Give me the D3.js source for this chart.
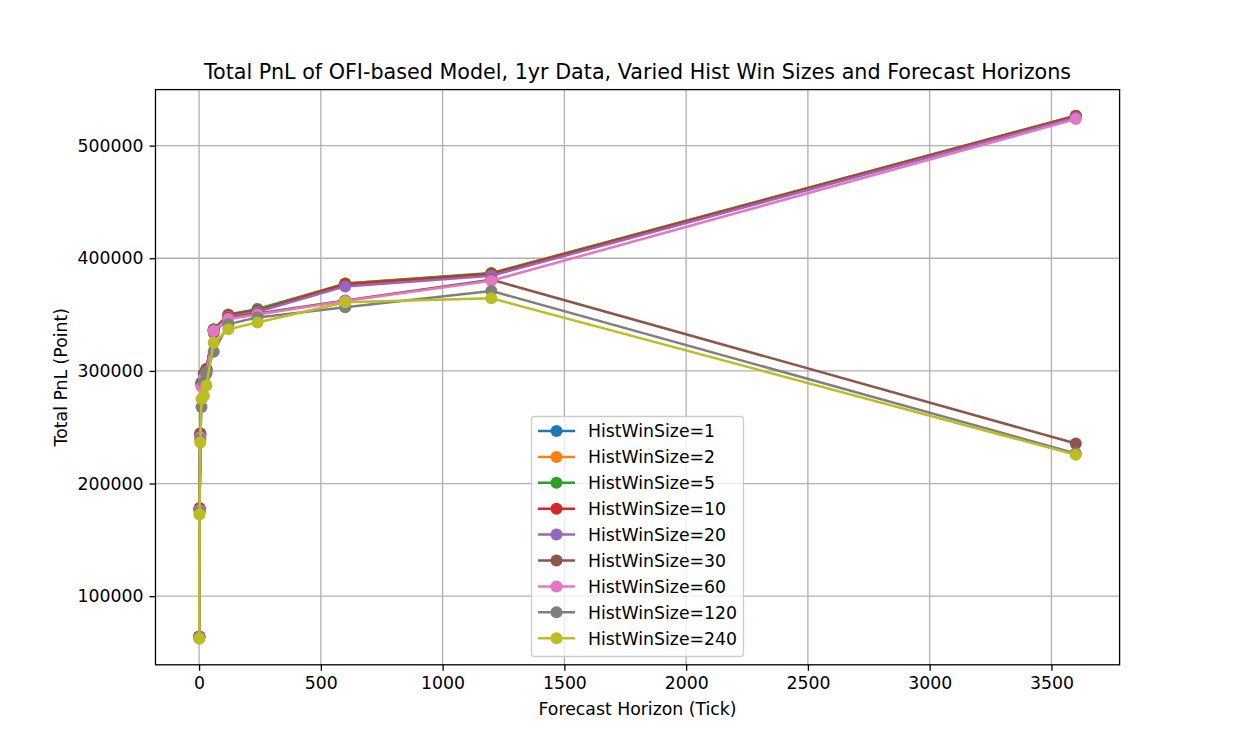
<!DOCTYPE html>
<html>
<head>
<meta charset="utf-8">
<script src="https://cdn.jsdelivr.net/npm/d3@7"></script>
<style>
  body { margin: 0; background: #fff; }
  text { font-family: "DejaVu Sans", sans-serif; fill: #000; }
</style>
</head>
<body>
<div id="chart"></div>
<script>
// forecast horizons (ticks) on the x axis
var horizons = [1, 2, 5, 10, 20, 30, 60, 120, 240, 600, 1200, 3600];

// total PnL per hist win size, one value per horizon
var hws1   = [64000, 177500, 244000, 289000, 297000, 301000, 336000, 349000, 353500, 377000, 386000, 526000];
var hws2   = [64000, 177800, 244200, 289500, 297500, 301500, 336500, 349500, 354000, 377500, 386500, 526500];
var hws5   = [64200, 178000, 244500, 290000, 298000, 302000, 337000, 350000, 355000, 377500, 386800, 526500];
var hws10  = [64300, 178000, 244000, 289000, 297000, 301000, 336500, 349500, 353500, 377000, 386000, 526000];
var hws20  = [64000, 177000, 243000, 288000, 296000, 300000, 336000, 348000, 352500, 375000, 384500, 525000];
var hws30  = [63800, 177000, 243000, 287000, 295000, 299000, 334000, 347000, 351000, 362500, 381000, 235500];
var hws60  = [63500, 176000, 241000, 286000, 294000, 298000, 335500, 346000, 350000, 362000, 380000, 523500];
var hws120 = [63000, 175000, 239500, 268000, 290000, 298000, 317000, 341500, 347500, 356500, 371000, 226800];
var hws240 = [62300, 172500, 236500, 275000, 278000, 287000, 325000, 337000, 343000, 361000, 364500, 225500];

var seriesNames = ["HistWinSize=1", "HistWinSize=2", "HistWinSize=5", "HistWinSize=10", "HistWinSize=20",
                   "HistWinSize=30", "HistWinSize=60", "HistWinSize=120", "HistWinSize=240"];
var seriesValues = [hws1, hws2, hws5, hws10, hws20, hws30, hws60, hws120, hws240];

var xTicks = [0, 500, 1000, 1500, 2000, 2500, 3000, 3500];
var yTicks = [100000, 200000, 300000, 400000, 500000];

var colors = ["#1f77b4", "#ff7f0e", "#2ca02c", "#d62728", "#9467bd",
              "#8c564b", "#e377c2", "#7f7f7f", "#bcbd22"];

var W = 1244, H = 747;
var margin = { top: 89.6, right: 124.4, bottom: 82.2, left: 155.5 };
var width = W - margin.left - margin.right;
var height = H - margin.top - margin.bottom;

var series = seriesNames.map(function(n, i) {
  return { name: n, color: colors[i], points: horizons.map(function(h, j) { return { x: h, y: seriesValues[i][j] }; }) };
});

// matplotlib style 5% autoscale margins
var xExt = d3.extent(horizons);
var yAll = [].concat.apply([], seriesValues);
var yExt = d3.extent(yAll);
var xPad = (xExt[1] - xExt[0]) * 0.05, yPad = (yExt[1] - yExt[0]) * 0.05;

var xScale = d3.scaleLinear().domain([xExt[0] - xPad, xExt[1] + xPad]).range([0, width]);
var yScale = d3.scaleLinear().domain([yExt[0] - yPad, yExt[1] + yPad]).range([height, 0]);

var svg = d3.select("#chart").append("svg")
  .attr("width", W).attr("height", H);

var g = svg.append("g")
  .attr("transform", "translate(" + margin.left + "," + margin.top + ")");

// grid
g.append("g").selectAll("line").data(xTicks).enter().append("line")
  .attr("x1", d => xScale(d)).attr("x2", d => xScale(d))
  .attr("y1", 0).attr("y2", height)
  .attr("stroke", "#b0b0b0").attr("stroke-width", 1.3);
g.append("g").selectAll("line").data(yTicks).enter().append("line")
  .attr("y1", d => yScale(d)).attr("y2", d => yScale(d))
  .attr("x1", 0).attr("x2", width)
  .attr("stroke", "#b0b0b0").attr("stroke-width", 1.3);

// lines + markers
var line = d3.line().x(d => xScale(d.x)).y(d => yScale(d.y));
series.forEach(function(s) {
  var sg = g.append("g");
  sg.append("path").datum(s.points)
    .attr("d", line)
    .attr("fill", "none")
    .attr("stroke", s.color)
    .attr("stroke-width", 2.5)
    .attr("stroke-linejoin", "round");
  sg.selectAll("circle").data(s.points).enter().append("circle")
    .attr("cx", d => xScale(d.x))
    .attr("cy", d => yScale(d.y))
    .attr("r", 6)
    .attr("fill", s.color);
});

// axes
var xAxis = g.append("g")
  .attr("transform", "translate(0," + height + ")")
  .call(d3.axisBottom(xScale).tickValues(xTicks).tickFormat(d3.format("d")).tickSize(6).tickPadding(5.5));
var yAxis = g.append("g")
  .call(d3.axisLeft(yScale).tickValues(yTicks).tickFormat(d3.format("d")).tickSize(6).tickPadding(6));
[xAxis, yAxis].forEach(function(a) {
  a.select(".domain").remove();
  a.selectAll("line").attr("stroke", "#000").attr("stroke-width", 1.3);
  a.selectAll("text").style("font-size", "17.3px").attr("fill", "#000");
});

// spines
g.append("rect")
  .attr("x", 0).attr("y", 0).attr("width", width).attr("height", height)
  .attr("fill", "none").attr("stroke", "#000").attr("stroke-width", 1.3);

// title and labels
svg.append("text")
  .attr("x", margin.left + width / 2).attr("y", margin.top - 11)
  .attr("text-anchor", "middle")
  .style("font-size", "20.7px")
  .text("Total PnL of OFI-based Model, 1yr Data, Varied Hist Win Sizes and Forecast Horizons");

svg.append("text")
  .attr("x", margin.left + width / 2).attr("y", 715)
  .attr("text-anchor", "middle")
  .style("font-size", "17.3px")
  .text("Forecast Horizon (Tick)");

svg.append("text")
  .attr("transform", "translate(67," + (margin.top + height / 2) + ") rotate(-90)")
  .attr("text-anchor", "middle")
  .style("font-size", "17.3px")
  .text("Total PnL (Point)");

// legend
var lg = svg.append("g").attr("transform", "translate(531,416)");
lg.append("rect")
  .attr("x", 0.5).attr("y", 0.5).attr("width", 212).attr("height", 240)
  .attr("rx", 3).attr("ry", 3)
  .attr("fill", "#fff").attr("fill-opacity", 0.8)
  .attr("stroke", "#cccccc").attr("stroke-width", 1.3);

var item = lg.selectAll(".item").data(series).enter().append("g")
  .attr("class", "item")
  .attr("transform", (d, i) => "translate(0," + (15 + i * 25.9) + ")");
item.append("line")
  .attr("x1", 7).attr("x2", 44).attr("y1", 0).attr("y2", 0)
  .attr("stroke", d => d.color).attr("stroke-width", 2.5);
item.append("circle")
  .attr("cx", 25.5).attr("cy", 0).attr("r", 6)
  .attr("fill", d => d.color);
item.append("text")
  .attr("x", 57).attr("y", 6.3)
  .style("font-size", "17.3px")
  .text(d => d.name);
</script>
</body>
</html>
